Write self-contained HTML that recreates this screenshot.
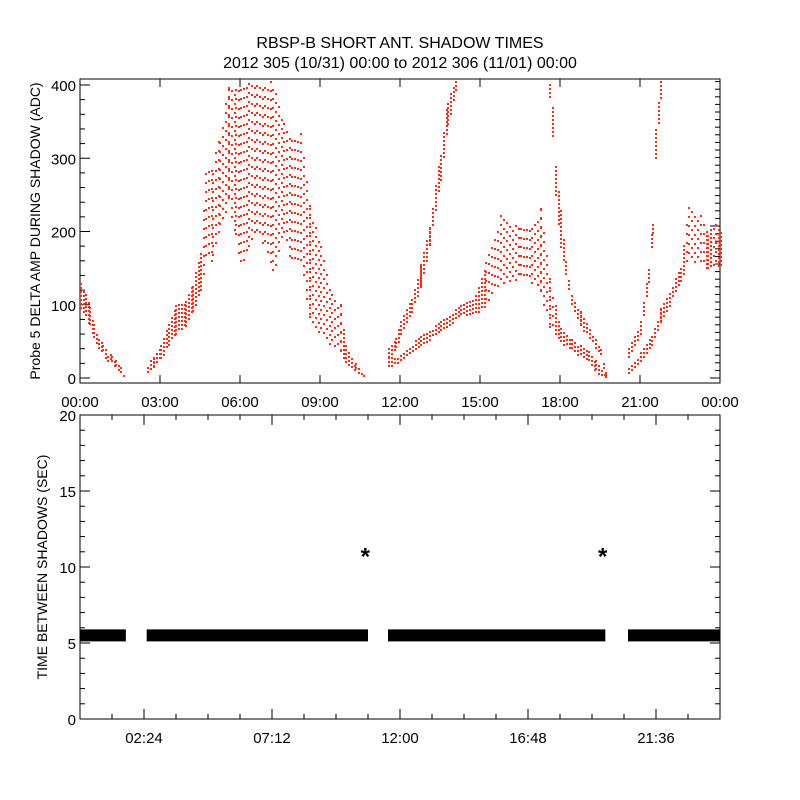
<!DOCTYPE html>
<html><head><meta charset="utf-8"><style>
body{margin:0;background:#fff}
svg{display:block;font-family:"Liberation Sans",sans-serif}
</style></head><body>
<svg id="c" width="800" height="800" viewBox="0 0 800 800">
<rect width="800" height="800" fill="#fff"/>
<text x="400" y="48" text-anchor="middle" font-size="16">RBSP-B SHORT ANT. SHADOW TIMES</text>
<text x="400" y="68" text-anchor="middle" font-size="16">2012 305 (10/31) 00:00 to 2012 306 (11/01) 00:00</text>
<g id="topPanel"></g>
<g id="botPanel"></g>
</svg>
<script>
// ---- top panel data: segments of [hour, low, high] envelope samples ----
const seg1T=[0,0.17,0.33,0.5,0.67,0.83,1.0,1.17,1.33,1.5,1.62];
const seg1Lo=[95,85,70,55,40,35,25,22,15,5,0];
const seg1Hi=[130,115,100,75,55,50,35,32,25,15,5];
const seg2T=[2.5,2.75,3.0,3.3,3.56,3.94,4.2,4.5,4.7,4.95,5.2,5.55,5.8,6.0,6.3,6.6,6.9,7.2,7.6,7.9,8.25,8.6,9.0,9.4,9.75,9.94,10.3,10.6];
const seg2Lo=[10,15,25,45,60,70,90,120,160,160,200,240,190,150,170,200,180,140,190,160,160,80,60,45,35,20,10,0];
const seg2Hi=[20,30,45,75,100,105,130,170,280,290,330,400,395,395,405,405,405,405,350,330,335,240,180,120,100,45,20,5];
const seg3aT=[11.55,11.8,12.0,12.4,12.75,13.1,13.5,13.76,14.06];
const seg3aLo=[28,40,58,90,125,180,270,345,390];
const seg3aHi=[42,55,78,110,155,210,305,380,405];
const seg3bT=[11.55,12.0,12.75,13.5,14.25,14.8,15.2,15.75,16.1,16.5,16.9,17.25,17.6,18.0,18.4,18.75,19.05,19.3,19.7];
const seg3bLo=[15,22,45,62,85,86,100,131,125,140,130,117,68,50,38,30,22,10,0];
const seg3bHi=[30,32,58,78,100,113,158,222,215,205,210,232,140,68,55,45,38,25,5];
const seg3cT=[17.6,17.7,17.8,18.0,18.2,18.4,18.75,19.1,19.5,19.7];
const seg3cLo=[380,330,250,180,140,100,70,55,30,0];
const seg3cHi=[405,375,290,230,160,115,90,70,40,8];
const seg4aT=[20.55,21.0,21.4,21.75,22.1,22.5,22.8,23.25,23.5,23.8,24];
const seg4aLo=[5,20,45,75,100,130,160,158,150,150,155];
const seg4aHi=[15,35,60,95,120,150,236,222,200,210,200];
const seg4bT=[20.55,21.0,21.3,21.45,21.56,21.75];
const seg4bLo=[28,60,130,195,300,380];
const seg4bHi=[42,78,150,215,340,405];
const topYTicks=[0,100,200,300,400];
const topXTicks=["00:00","03:00","06:00","09:00","12:00","15:00","18:00","21:00","00:00"];
// ---- bottom panel data ----
const botStart=[0,2.5,11.55,20.55];
const botEnd=[1.72,10.8,19.7,24];
const botLevel=[5.5,5.5,5.5,5.5];
const outT=[10.7,19.6];
const outV=[10.9,10.9];
const botYTicks=[0,5,10,15,20];
const botXTicks=["02:24","07:12","12:00","16:48","21:36"];

const NS="http://www.w3.org/2000/svg";
function mk(p,tag,a){const e=document.createElementNS(NS,tag);for(const k in a)e.setAttribute(k,a[k]);p.appendChild(e);return e;}
const L=80,R=720;
const X=t=>L+t*(R-L)/24;
const T0=79,T1=383, Ty=v=>378-v*0.7325;
const B0=415,B1=719, By=v=>719-v*15.2;
const topG=document.getElementById('topPanel'), botG=document.getElementById('botPanel');

let f=mk(topG,'rect',{x:L,y:T0,width:R-L,height:T1-T0,fill:'none',stroke:'#000','stroke-width':1});


topYTicks.forEach(v=>{
  mk(topG,'line',{x1:L,x2:L+10,y1:Ty(v),y2:Ty(v),stroke:'#000'});
  let t=mk(topG,'text',{x:L-4,y:Ty(v)+6,'text-anchor':'end','font-size':15});t.textContent=v;
  
  
});
for(let v=20;v<400;v+=20){if(v%100)mk(topG,'line',{x1:L,x2:L+5,y1:Ty(v),y2:Ty(v),stroke:'#000'});}
for(let y=T1-5;y>T0;y-=7.6){const maj=Math.abs((T1-5-y)%152)<1;mk(topG,'line',{x1:R,x2:R-(maj?10:5),y1:y,y2:y,stroke:'#000'});}
topXTicks.forEach((s,i)=>{
  const x=X(i*3);
  mk(topG,'line',{x1:x,x2:x,y1:T1,y2:T1-8,stroke:'#000'});
  mk(topG,'line',{x1:x,x2:x,y1:T0,y2:T0+8,stroke:'#000'});
  let t=mk(topG,'text',{x:x,y:T1+24,'text-anchor':'middle','font-size':15});t.textContent=s;
  
  
});
let yl=mk(topG,'text',{transform:`translate(40,231) rotate(-90)`,'text-anchor':'middle','font-size':14});
yl.textContent='Probe 5 DELTA AMP DURING SHADOW (ADC)';



function drawSeg(T,Lo,Hi,name){
  const g=mk(topG,'g',{fill:'#ff2a10','shape-rendering':'crispEdges'});
  
  
  for(let i=0;i<T.length;i++){
    const x0=X(T[i]), x1=i<T.length-1?X(T[i+1]):x0+3;
    const lo1=i<T.length-1?Lo[i+1]:Lo[i], hi1=i<T.length-1?Hi[i+1]:Hi[i];
    for(let x=x0;x<x1;x+=3){
      const fr=(x-x0)/Math.max(1,x1-x0);
      const ya=Ty(Math.min(405,Hi[i]+(hi1-Hi[i])*fr)), yb=Ty(Lo[i]+(lo1-Lo[i])*fr);
      const step=(yb-ya)>40?9:4;
      const off=((Math.round(x)*7)%5)*step/5;
      for(let y=ya+off;y<=yb;y+=step){
        if(y<T0+1||y>T1-2)continue;
        mk(g,'rect',{x:Math.round(x),y:Math.round(y),width:2,height:2});
      }
    }
  }
}
drawSeg(seg1T,seg1Lo,seg1Hi,'amp-series-pass-1');
drawSeg(seg2T,seg2Lo,seg2Hi,'amp-series-pass-2');
drawSeg(seg3aT,seg3aLo,seg3aHi,'amp-series-pass-3-upper');
drawSeg(seg3bT,seg3bLo,seg3bHi,'amp-series-pass-3-lower');
drawSeg(seg3cT,seg3cLo,seg3cHi,'amp-series-pass-3-descent');
drawSeg(seg4aT,seg4aLo,seg4aHi,'amp-series-pass-4-lower');
drawSeg(seg4bT,seg4bLo,seg4bHi,'amp-series-pass-4-upper');

f=mk(botG,'rect',{x:L,y:B0,width:R-L,height:B1-B0,fill:'none',stroke:'#000'});


botYTicks.forEach(v=>{
  mk(botG,'line',{x1:L,x2:L+10,y1:By(v),y2:By(v),stroke:'#000'});
  mk(botG,'line',{x1:R,x2:R-10,y1:By(v),y2:By(v),stroke:'#000'});
  let t=mk(botG,'text',{x:L-4,y:By(v)+6,'text-anchor':'end','font-size':15});t.textContent=v;
  
  
});
for(let v=1;v<20;v++){if(v%5){mk(botG,'line',{x1:L,x2:L+5,y1:By(v),y2:By(v),stroke:'#000'});mk(botG,'line',{x1:R,x2:R-5,y1:By(v),y2:By(v),stroke:'#000'});}}
for(let k=1;k<20;k++){const h=k*1.2;const maj=(k%4)===2;
  mk(botG,'line',{x1:X(h),x2:X(h),y1:B1,y2:B1-(maj?10:5),stroke:'#000'});
  mk(botG,'line',{x1:X(h),x2:X(h),y1:B0,y2:B0+(maj?10:5),stroke:'#000'});}
botXTicks.forEach((s,i)=>{
  let t=mk(botG,'text',{x:X(2.4+i*4.8),y:B1+24,'text-anchor':'middle','font-size':15});t.textContent=s;
  
  
});
yl=mk(botG,'text',{transform:`translate(47,567) rotate(-90)`,'text-anchor':'middle','font-size':14});
yl.textContent='TIME BETWEEN SHADOWS (SEC)';


botStart.forEach((s,i)=>{
  const r=mk(botG,'rect',{x:X(s),y:By(botLevel[i])-6,width:X(botEnd[i])-X(s),height:12,fill:'#000'});
  
  
});
outT.forEach((t,i)=>{
  const e=mk(botG,'text',{x:X(t),y:By(outV[i])+11,'text-anchor':'middle','font-size':24,'font-weight':'bold'});
  e.textContent='*';
  
  
});
</script>
</body></html>
